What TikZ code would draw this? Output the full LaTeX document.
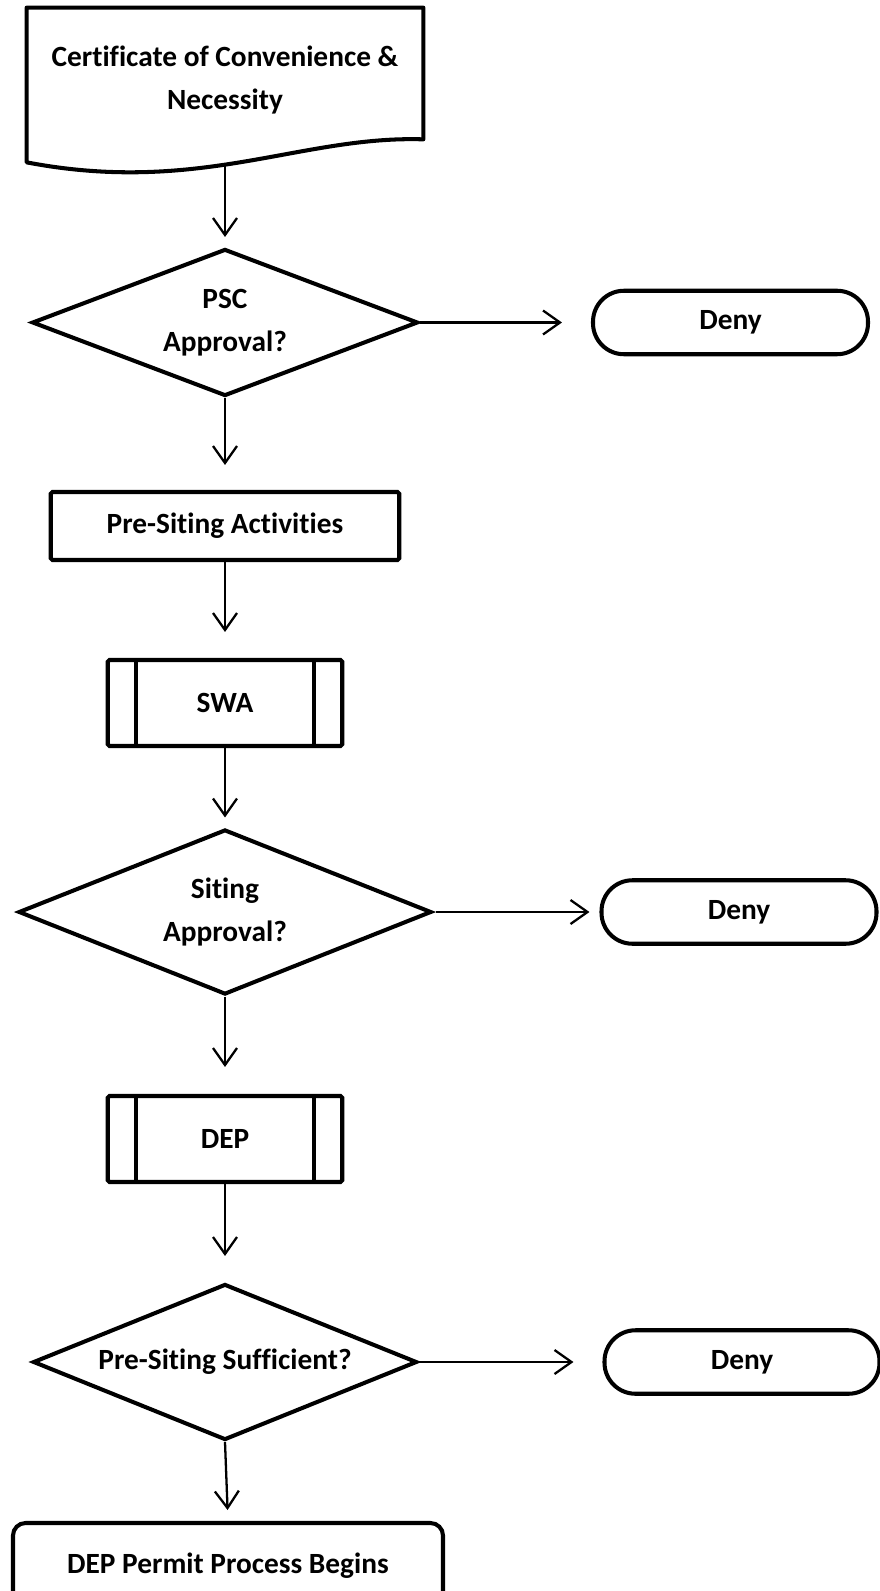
\documentclass[tikz,border=0pt]{standalone}
\usepackage{fontspec}
\setmainfont[Ligatures={NoCommon}]{Carlito}
\usetikzlibrary{shapes.geometric, arrows.meta, positioning}
\tikzstyle{docshape} = [rectangle, minimum width=7.92cm, minimum height=2.88cm, align=center]
\tikzstyle{docline} = [line width=2.3pt, line join=round]
\tikzstyle{decision} = [diamond, inner sep=0pt, align=center, draw=black, line width=2.3pt]
\tikzstyle{process} = [rectangle, rounded corners=1pt, minimum width=6.97cm, minimum height=1.36cm, text centered, draw=black, line width=2.3pt]
\tikzstyle{predefined} = [rectangle, rounded corners=1pt, minimum width=4.69cm, minimum height=1.72cm, text centered, draw=black, line width=2.3pt,
  path picture={\draw[line width=2.3pt] ([xshift=0.57cm]path picture bounding box.north west) -- ([xshift=0.57cm]path picture bounding box.south west);
                \draw[line width=2.3pt] ([xshift=-0.57cm]path picture bounding box.north east) -- ([xshift=-0.57cm]path picture bounding box.south east);}]
\tikzstyle{terminal} = [rectangle, rounded corners=0.62cm, minimum width=5.5cm, minimum height=1.27cm, text centered, draw=black, line width=2.3pt]
\tikzstyle{startstop} = [rectangle, rounded corners=0.25cm, minimum width=8.6cm, minimum height=1.72cm, text centered, draw=black, line width=2.3pt]
\tikzstyle{arrow} = [line width=1.3pt, -{Straight Barb[length=0.34cm, width=0.48cm]}]

\begin{document}
\begin{tikzpicture}[node distance=4cm, font=\fontsize{16.7}{24.4}\selectfont\bfseries]
\useasboundingbox (0,0) rectangle (17.58,-31.82);

% Nodes
\node (cert) [docshape] at (4.5,-1.6) {Certificate of Convenience \&\\Necessity};
\node (psc) [decision, below of=cert, yshift=-0.85cm, minimum width=7.72cm, minimum height=2.94cm, aspect=2.6] {PSC\\Approval?};
\node (deny1) [terminal, right of=psc, xshift=6.11cm] {Deny};
\node (pre) [process, below of=psc, yshift=-0.07cm] {Pre-Siting Activities};
\node (swa) [predefined, below of=pre, yshift=0.46cm] {SWA};
\node (siting) [decision, below of=swa, yshift=-0.18cm, minimum width=8.26cm, minimum height=3.3cm, aspect=2.5] {Siting\\Approval?};
\node (deny2) [terminal, right of=siting, xshift=6.28cm] {Deny};
\node (dep) [predefined, below of=siting, yshift=-0.54cm] {DEP};
\node (suff) [decision, below of=dep, yshift=-0.46cm, minimum width=7.68cm, minimum height=3.12cm, aspect=2.46] {Pre-Siting Sufficient?};
\node (deny3) [terminal, right of=suff, xshift=6.34cm] {Deny};
\node (begin) [startstop, below of=suff, yshift=-0.08cm, xshift=0.06cm] {DEP Permit Process Begins};

% Document outline
\draw [docline] ([yshift=0.26cm]cert.south east) -- (cert.north east) -- (cert.north west) -- ([yshift=-0.2cm]cert.south west)
  .. controls ([xshift=3.45cm, yshift=-0.86cm]cert.south west) and ([xshift=-2.46cm, yshift=0.34cm]cert.south east) .. ([yshift=0.26cm]cert.south east) -- cycle;

% Arrows
\draw [arrow, shorten <=0.24cm, shorten >=0.2cm] (cert.south) -- (psc.north);
\draw [arrow, shorten >=0.58cm] (psc.east) -- (deny1.west);
\draw [arrow, shorten >=0.5cm] (psc.south) -- (pre.north);
\draw [arrow, shorten >=0.52cm] (pre.south) -- (swa.north);
\draw [arrow, shorten >=0.2cm] (swa.south) -- (siting.north);
\draw [arrow, shorten <=0.05cm, shorten >=0.2cm] (siting.east) -- (deny2.west);
\draw [arrow, shorten >=0.54cm] (siting.south) -- (dep.north);
\draw [arrow, shorten >=0.52cm] (dep.south) -- (suff.north);
\draw [arrow, shorten >=0.58cm] (suff.east) -- (deny3.west);
\draw [arrow, shorten >=0.22cm] (suff.south) -- (begin.north);

\end{tikzpicture}
\end{document}
